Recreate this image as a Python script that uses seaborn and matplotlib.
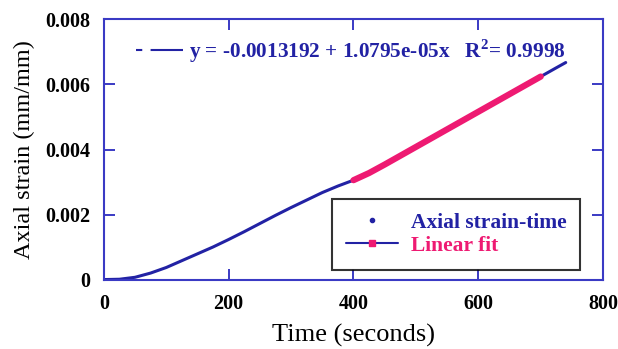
import numpy as np
import pandas as pd
import matplotlib
matplotlib.use("Agg")
import matplotlib.pyplot as plt
from matplotlib.lines import Line2D
import seaborn as sns

# ── DATA ─────────────────────────────────────────────────────────────────────
time_s = [0, 25, 50, 75, 100, 125, 150, 175, 200, 225, 250, 275, 300, 325,
          350, 375, 400, 425, 450, 475, 500, 525, 550, 575, 600, 625, 650,
          675, 700, 725, 740]
strain = [0.00001, 0.00002, 0.00008, 0.00021, 0.00038, 0.00059, 0.00080,
          0.00101, 0.00124, 0.00148, 0.00173, 0.00198, 0.00222, 0.00245,
          0.00268, 0.00288, 0.00306, 0.00328, 0.00354, 0.00381, 0.00408,
          0.00435, 0.00462, 0.00489, 0.00516, 0.00543, 0.00570, 0.00597,
          0.00624, 0.00651, 0.00667]
fit_range = (400, 700)
fit_text = "y = -0.0013192 + 1.0795e-05x   R$^{2}$= 0.9998"
x_ticks = [0, 200, 400, 600, 800]
y_ticks = [0, 0.002, 0.004, 0.006, 0.008]
y_ticklabels = ["0", "0.002", "0.004", "0.006", "0.008"]

BLUE = "#2222A4"
SPINE = "#3A3AC4"
PINK = "#EE1A72"

df = pd.DataFrame({"Time": time_s, "Strain": strain})
fit_df = df[(df["Time"] >= fit_range[0]) & (df["Time"] <= fit_range[1])]

sns.set_style("ticks")
plt.rcParams["font.family"] = ["Liberation Serif", "DejaVu Serif"]
plt.rcParams["mathtext.fontset"] = "custom"
plt.rcParams["mathtext.rm"] = "Liberation Serif:bold"
plt.rcParams["text.color"] = "black"

fig = plt.figure(figsize=(6.18, 3.49), dpi=100)
ax = fig.add_axes([0.168, 0.198, 0.808, 0.747])

sns.lineplot(data=df, x="Time", y="Strain", color=BLUE, linewidth=2.2, ax=ax)
sns.lineplot(data=fit_df, x="Time", y="Strain", color=PINK, linewidth=4.5, ax=ax)

ax.set_xlim(0, 800)
ax.set_ylim(0, 0.008)
ax.set_xticks(x_ticks)
ax.set_yticks(y_ticks)
ax.set_yticklabels(y_ticklabels)
ax.tick_params(direction="in", length=8, width=1.4, color=SPINE,
               labelcolor="black", top=True, right=True, labelsize=14.5)
ax.tick_params(axis="x", pad=10)
ax.tick_params(axis="y", pad=10)
for lbl in ax.get_xticklabels() + ax.get_yticklabels():
    lbl.set_fontweight("bold")
for sp in ax.spines.values():
    sp.set_color(SPINE)
    sp.set_linewidth(1.5)

ax.set_xlabel("Time (seconds)", fontsize=19, color="black", labelpad=7)
ax.set_ylabel("Axial strain (mm/mm)", fontsize=17.5, color="black", labelpad=7)

# fit equation legend at top
fit_handle = Line2D([], [], color=BLUE, linewidth=1.5, dashes=(3, 4, 16, 0))
top_leg = ax.legend([fit_handle], [fit_text], loc="upper left",
                    bbox_to_anchor=(0.026, 1.005), frameon=False,
                    handlelength=2.2, handletextpad=0.3,
                    prop={"weight": "bold", "size": 15.3})
for t in top_leg.get_texts():
    t.set_color(BLUE)
ax.add_artist(top_leg)

# data legend
h_data = Line2D([], [], color=BLUE, marker="o", markersize=3, linestyle="none")
h_fit = Line2D([], [], color=BLUE, linewidth=1.5, marker="s", markersize=4,
               markerfacecolor=PINK, markeredgecolor=PINK)
leg = ax.legend([h_data, h_fit], ["Axial strain-time", "Linear fit"],
                loc="lower right", bbox_to_anchor=(0.954, 0.038),
                borderaxespad=0, frameon=True, fancybox=False,
                edgecolor="black", handlelength=2.4, handletextpad=0.6,
                borderpad=0.65, labelspacing=0.15,
                prop={"weight": "bold", "size": 15.5})
leg.get_frame().set_linewidth(1.5)
leg.get_texts()[0].set_color(BLUE)
leg.get_texts()[1].set_color(PINK)

fig.savefig("out.png", dpi=100)
